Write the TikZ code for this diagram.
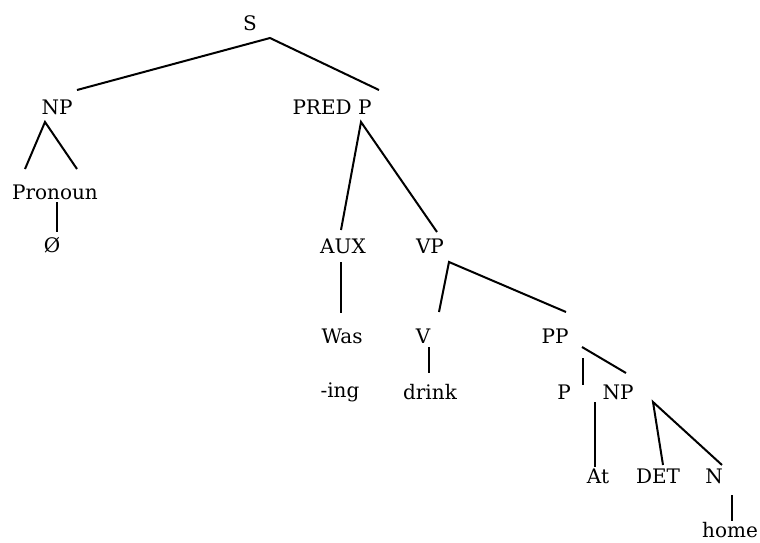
\documentclass[tikz,border=0pt]{standalone}
\usepackage{fontspec}
\setmainfont{DejaVu Serif}
\usepackage{tikz}

\begin{document}
\begin{tikzpicture}[x=1pt, y=-1pt, inner sep = 0pt,
  font=\fontsize{20}{24}\selectfont]
  \useasboundingbox (0,0) rectangle (760,542);
  \tikzset{branch/.style={line width=2pt}}

  % labels of the tree
  \node (s) at (250,23) {S};
  \node (np) at (57,107) {NP};
  \node (predp) at (332,107) {PRED P};
  \node (pron) at (55,192) {Pronoun};
  \node (null) at (52,245) {Ø};
  \node (aux) at (343,246) {AUX};
  \node (vp) at (430,246) {VP};
  \node (was) at (342,336) {Was};
  \node (v) at (423,336) {V};
  \node (pp) at (555,336) {PP};
  \node (ing) at (340,392) {-ing};
  \node (drink) at (430,392) {drink};
  \node (p) at (564,392) {P};
  \node (ppnp) at (618,392) {NP};
  \node (at) at (598,476) {At};
  \node (det) at (658,476) {DET};
  \node (n) at (714,476) {N};
  \node (home) at (730,530) {home};

  % ends of the branches
  \coordinate (sfoot) at (270,38);
  \coordinate (nptop) at (77,90);
  \coordinate (predptop) at (379,90);
  \coordinate (npfoot) at (45,122);
  \coordinate (pronleft) at (25,169);
  \coordinate (pronright) at (77,169);
  \coordinate (pronfoot) at (57,202);
  \coordinate (nulltop) at (57,232);
  \coordinate (predpfoot) at (361,122);
  \coordinate (auxtop) at (341,230);
  \coordinate (vptop) at (437,232);
  \coordinate (auxfoot) at (341,262);
  \coordinate (wastop) at (341,313);
  \coordinate (vpfoot) at (449,262);
  \coordinate (vtop) at (439,312);
  \coordinate (pptop) at (566,312);
  \coordinate (vfoot) at (429,347);
  \coordinate (drinktop) at (429,373);
  \coordinate (ppfoot) at (583,358);
  \coordinate (ptop) at (583,385);
  \coordinate (ppslant) at (582,347);
  \coordinate (ppnptop) at (626,373);
  \coordinate (ppnpleft) at (595,402);
  \coordinate (attop) at (595,467);
  \coordinate (ppnpfoot) at (653,402);
  \coordinate (dettop) at (663,465);
  \coordinate (ntop) at (722,465);
  \coordinate (nfoot) at (732,495);
  \coordinate (hometop) at (732,521);

  \draw[branch] (nptop) -- (sfoot) -- (predptop);
  \draw[branch] (pronleft) -- (npfoot) -- (pronright);
  \draw[branch] (pronfoot) -- (nulltop);
  \draw[branch] (auxtop) -- (predpfoot) -- (vptop);
  \draw[branch] (auxfoot) -- (wastop);
  \draw[branch] (vtop) -- (vpfoot) -- (pptop);
  \draw[branch] (vfoot) -- (drinktop);
  \draw[branch] (ppfoot) -- (ptop);
  \draw[branch] (ppslant) -- (ppnptop);
  \draw[branch] (ppnpleft) -- (attop);
  \draw[branch] (dettop) -- (ppnpfoot) -- (ntop);
  \draw[branch] (nfoot) -- (hometop);
\end{tikzpicture}
\end{document}
